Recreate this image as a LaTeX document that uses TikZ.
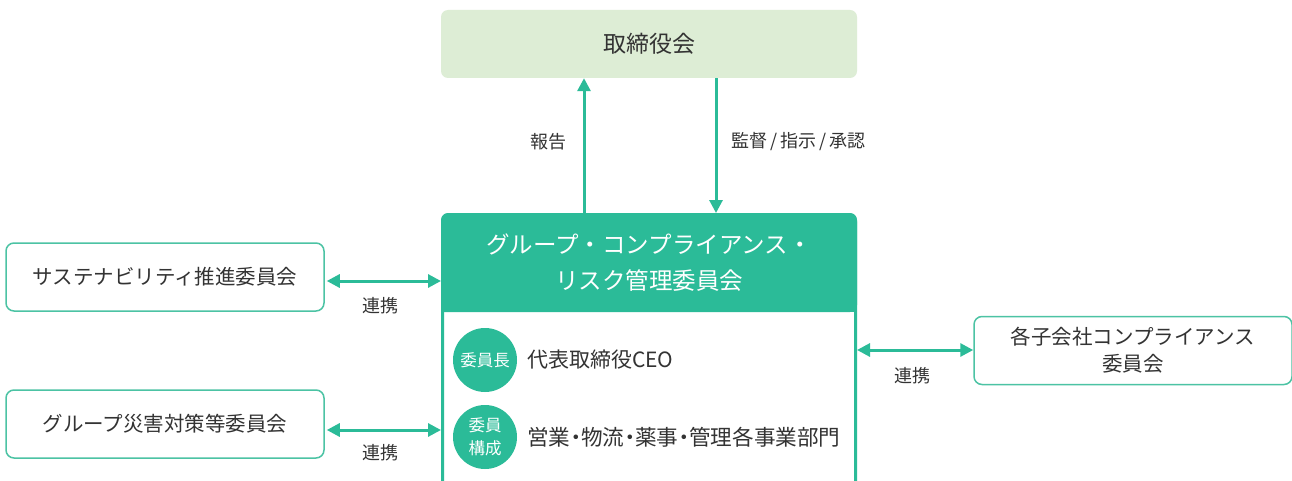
\documentclass[tikz,border=0pt]{standalone}
\usepackage{fontspec}
\setmainfont{Noto Sans CJK JP}
\newfontfamily\paltfont[RawFeature=+palt]{Noto Sans CJK JP}
\usetikzlibrary{arrows.meta,calc}
\definecolor{gr}{HTML}{2BBB98}
\definecolor{grl}{HTML}{4CC3A4}
\definecolor{pale}{HTML}{DDEDD5}
\definecolor{txt}{HTML}{333333}
\begin{document}
\begin{tikzpicture}[x=1pt,y=-1pt,
  every node/.style={text=txt,inner sep=0pt},
  side/.style={draw=grl,line width=1.5pt,rounded corners=8pt,fill=white,minimum width=318pt,minimum height=68pt,font=\fontsize{20.5}{26}\selectfont,align=center},
  arr/.style={draw=gr,line width=3pt,-{Triangle[length=13pt,width=13pt]}},
  dbl/.style={draw=gr,line width=3pt,{Triangle[length=13pt,width=13pt]}-{Triangle[length=13pt,width=13pt]}},
  lbl/.style={font=\fontsize{18}{20}\selectfont},
  badge/.style={circle,fill=gr,minimum size=64pt,text=white,font=\fontsize{16.5}{19}\selectfont,align=center}]
\clip (0,0) rectangle (1292,481);
\fill[white] (0,0) rectangle (1292,481);
% board
\node[fill=pale,rounded corners=7pt,minimum width=416pt,minimum height=68pt,font=\fontsize{23}{28}\selectfont] (board) at (649,44) {取締役会};
% main box
\node[draw=gr,line width=3pt,rounded corners=7pt,fill=white,minimum width=413pt,minimum height=340pt] (main) at (649,384.5) {};
\fill[gr,rounded corners=7pt] (441,312) -- (441,213) -- (857,213) -- (857,312) [sharp corners] -- cycle;
\fill[gr] (441,300) rectangle (857,312);
\node[text=white,font=\fontsize{23.5}{36}\selectfont,align=center] (head) at (649,263) {グループ・コンプライアンス・\\リスク管理委員会};
% side boxes
\node[side] (sus) at (165,277) {サステナビリティ推進委員会};
\node[side] (dis) at (165,424) {グループ災害対策等委員会};
\node[side,font=\fontsize{20.5}{27}\selectfont] (sub) at (1133,350.5) {各子会社コンプライアンス\\委員会};
% vertical arrows
\coordinate (ux) at (584,0);
\coordinate (dx) at (716,0);
\draw[arr] (main.north -| ux) -- (board.south -| ux);
\draw[arr] (board.south -| dx) -- (main.north -| dx);
\node[lbl,anchor=east] (rep) at (567,142) {報告};
\node[lbl,anchor=west] (sup) at (731,142) {監督\,/\,指示\,/\,承認};
% horizontal arrows
\draw[dbl] ($(sus.east)+(2,4)$) coordinate (s1) -- (s1 -| main.west);
\draw[dbl] ($(dis.east)+(2,6)$) coordinate (d1) -- (d1 -| main.west);
\draw[dbl] (sub.west |- 0,350) coordinate (r1) -- (r1 -| main.east);
\node[lbl] (l1) at (380,306) {連携};
\node[lbl] (l2) at (380,453) {連携};
\node[lbl] (l3) at (912,376) {連携};
% badges
\node[badge] (chair) at (485,360) {委員長};
\node[badge,font=\fontsize{16.5}{23}\selectfont] (mem) at (485,437) {委員\\構成};
\node[anchor=west,font=\fontsize{21}{24}\selectfont] (ceo) at (527,360) {代表取締役CEO};
\node[anchor=west,font=\paltfont\fontsize{21.6}{24}\selectfont] (dept) at (527,437) {営業・物流・薬事・管理各事業部門};
\end{tikzpicture}
\end{document}
